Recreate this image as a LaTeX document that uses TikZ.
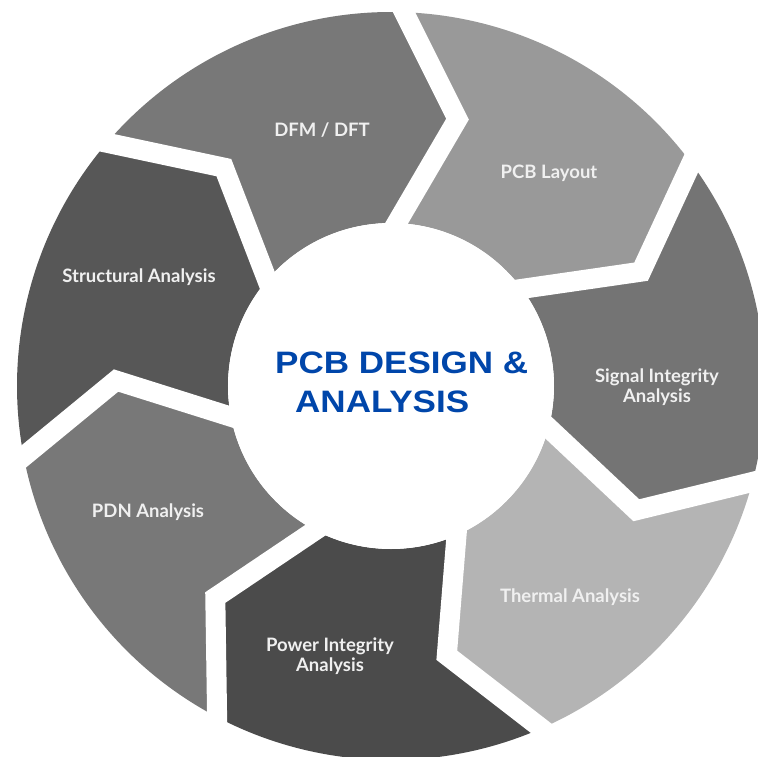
\documentclass[tikz,border=0pt]{standalone}
\usepackage{fontspec}
\newfontfamily\latofont{Lato}
\newfontfamily\arialfont{Liberation Sans}
\usetikzlibrary{positioning}
\usetikzlibrary{calc}
\definecolor{layoutgray}{RGB}{153,153,153}
\definecolor{signalgray}{RGB}{116,116,116}
\definecolor{thermalgray}{RGB}{180,180,180}
\definecolor{powergray}{RGB}{75,75,75}
\definecolor{pdngray}{RGB}{120,120,120}
\definecolor{structgray}{RGB}{87,87,87}
\definecolor{dfmgray}{RGB}{120,120,120}
\definecolor{labelgray}{RGB}{240,240,240}
\definecolor{titleblue}{RGB}{0,70,170}

\begin{document}
\begin{tikzpicture}[x=1pt, y=1pt,
        gap/.style={draw=white, line width=20pt, line join=miter},
        hub/.style={circle, fill=white, minimum size=326pt, inner sep=0pt},
        lbl/.style={text=labelgray, align=center, font=\latofont\bfseries\fontsize{18.5}{20}\selectfont},
        title/.style={text=titleblue, anchor=base west, inner sep=0pt, font=\arialfont\bfseries\fontsize{31}{38}\selectfont}]
            \useasboundingbox (-391,-370) rectangle (367,386);
            \clip (-391,-370) rectangle (367,386);
    
            % ring segments, clockwise from PCB Layout
            \foreach \a/\col in {88/layoutgray, 36.57/signalgray, -14.86/thermalgray, -66.29/powergray, -117.71/pdngray, -169.14/structgray, -220.57/dfmgray} {
                \pgfmathsetmacro\b{\a-51.43}
                \fill[\col] (\a:374) arc[start angle=\a, end angle=\b, radius=374pt] -- (\b-12:275) -- (\b:163)
                    arc[start angle=\b, end angle=\a, radius=163pt] -- (\a-12:275) -- cycle;
            }
            \foreach \a in {88, 36.57, -14.86, -66.29, -117.71, -169.14, -220.57} {
                \draw[gap] ($(\a-12:275)!1.4!(\a:374)$) -- (\a-12:275) -- ($(\a-12:275)!1.3!(\a:163)$);
            }
    
            \node[hub] (center) at (0,0) {};
            \node[title] (title1) at (-116,13) {\scalebox{1.13}[1]{PCB DESIGN \&}};
            \node[title] (title2) at (-96,-26) {\scalebox{1.13}[1]{ANALYSIS}};
    
            \node[lbl] (dfm) at (-69,256) {DFM / DFT};
            \node[lbl] (layout) at (158,213) {PCB Layout};
            \node[lbl] (signal) at (266,-1) {Signal Integrity\\Analysis};
            \node[lbl] (thermal) at (179,-211) {Thermal Analysis};
            \node[lbl] (power) at (-61,-270) {Power Integrity\\Analysis};
            \node[lbl] (pdn) at (-243,-126) {PDN Analysis};
            \node[lbl] (struct) at (-252,109) {Structural Analysis};
        \end{tikzpicture}
\end{document}
